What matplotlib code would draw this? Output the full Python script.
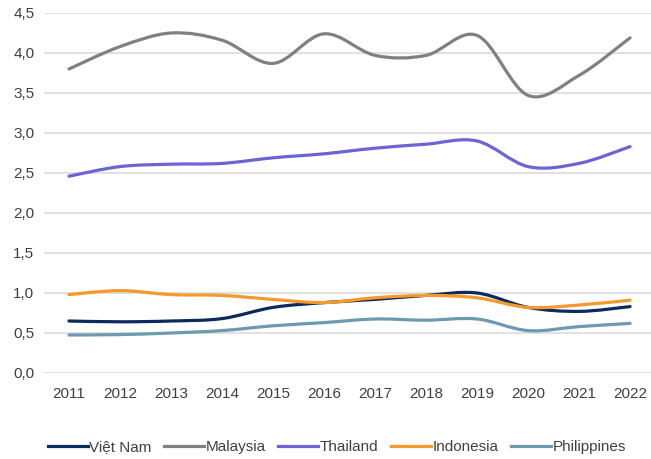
import matplotlib
matplotlib.use("Agg")
from matplotlib import pyplot as plt
from matplotlib.lines import Line2D
from matplotlib.path import Path
from matplotlib.patches import PathPatch

plt.rcParams["font.family"] = ["Liberation Sans", "DejaVu Sans"]
plt.rcParams.update({'font.size': 11})

years = [2011, 2012, 2013, 2014, 2015, 2016, 2017, 2018, 2019, 2020, 2021, 2022]

viet_nam = [0.65, 0.64, 0.65, 0.68, 0.82, 0.88, 0.92, 0.97, 1.00, 0.82, 0.77, 0.83]
malaysia = [3.80, 4.08, 4.25, 4.16, 3.87, 4.24, 3.97, 3.97, 4.22, 3.47, 3.72, 4.19]
thailand = [2.46, 2.58, 2.61, 2.62, 2.69, 2.74, 2.81, 2.86, 2.90, 2.58, 2.62, 2.83]
indonesia = [0.98, 1.03, 0.98, 0.97, 0.92, 0.88, 0.94, 0.97, 0.94, 0.82, 0.85, 0.91]
philippines = [0.475, 0.48, 0.50, 0.53, 0.59, 0.63, 0.675, 0.66, 0.675, 0.53, 0.58, 0.62]

labels = ["Việt Nam", "Malaysia", "Thailand", "Indonesia", "Philippines"]
colors = ["#0b2a5e", "#808080", "#6a64d6", "#f7982a", "#6d9aae"]
series = [viet_nam, malaysia, thailand, indonesia, philippines]

yticks = [0.0, 0.5, 1.0, 1.5, 2.0, 2.5, 3.0, 3.5, 4.0, 4.5]


def smooth_path(x, y):
    # excel-like smoothed line: cubic bezier through every point
    verts = [(x[0], y[0])]
    codes = [Path.MOVETO]
    n = len(x)
    for i in range(n - 1):
        x0, y0 = (x[i - 1], y[i - 1]) if i > 0 else (x[i], y[i])
        x3, y3 = (x[i + 2], y[i + 2]) if i + 2 < n else (x[i + 1], y[i + 1])
        c1 = (x[i] + (x[i + 1] - x0) / 6, y[i] + (y[i + 1] - y0) / 6)
        c2 = (x[i + 1] - (x3 - x[i]) / 6, y[i + 1] - (y3 - y[i]) / 6)
        verts += [c1, c2, (x[i + 1], y[i + 1])]
        codes += [Path.CURVE4] * 3
    return Path(verts, codes)


fig = plt.figure(figsize=(6.51, 4.59), dpi=100)
ax = fig.add_axes([44 / 651, 86 / 459, 607 / 651, 360 / 459])

for vals, col in zip(series, colors):
    ax.add_patch(PathPatch(smooth_path(years, vals), fill=False, edgecolor=col,
                           linewidth=2.3, capstyle="round", joinstyle="round", zorder=3))

ax.set_xlim(2010.51, 2022.41)
ax.set_ylim(0, 4.5)
ax.set_xticks(years)
ax.set_xticklabels([str(y) for y in years])
ax.set_yticks(yticks)
ax.set_yticklabels([f"{t:.1f}".replace(".", ",") for t in yticks])
ax.grid(axis="y", color="#d9d9d9", linewidth=1.1)
ax.set_axisbelow(True)
for s in ax.spines.values():
    s.set_visible(False)
ax.tick_params(length=0, colors="#404040", labelsize=11)
ax.tick_params(axis="x", pad=10)
ax.tick_params(axis="y", pad=7)

handles = [Line2D([0], [0], color=c, linewidth=2.3, label=l) for c, l in zip(colors, labels)]
leg = fig.legend(handles=handles, loc="center", bbox_to_anchor=(337 / 651, 1 - 447 / 459),
                 ncol=5, frameon=False, handlelength=2.6, handletextpad=0.12,
                 columnspacing=0.82, fontsize=11)
for t in leg.get_texts():
    t.set_color("#404040")

fig.savefig("out.png", dpi=100)
